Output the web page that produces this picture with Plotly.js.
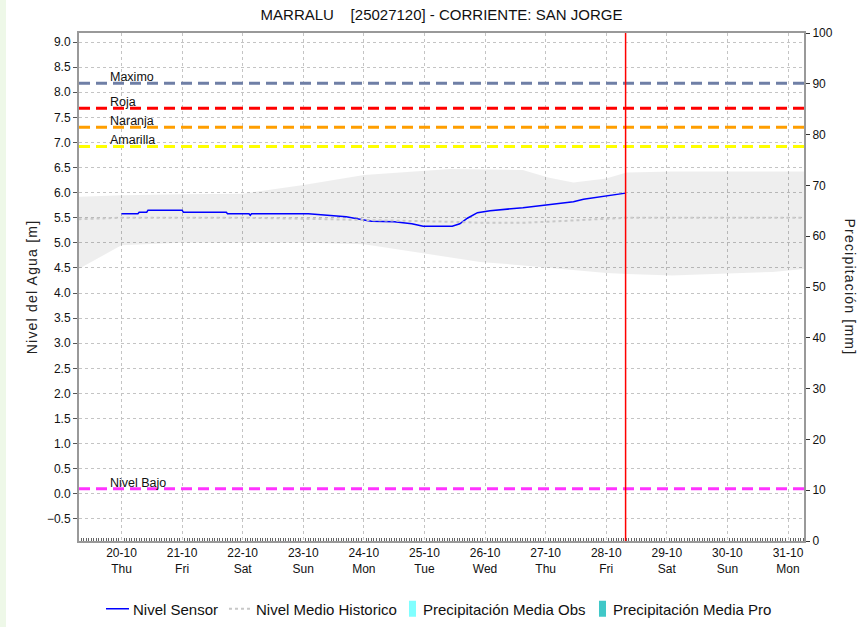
<!DOCTYPE html>
<html>
<head>
<meta charset="utf-8">
<script src="https://cdn.plot.ly/plotly-3.0.1.min.js"></script>
<style>
  html, body { margin: 0; padding: 0; background: #ffffff; }
  #chart { width: 858px; height: 627px; }
  #strip { position: absolute; left: 0; top: 0; width: 6px; height: 627px; background: #eef8e8; }
</style>
</head>
<body>
<div id="chart"></div>
<div id="strip"></div>
<script>
// ---- Data ----
const titleText = 'MARRALU \u00a0\u00a0\u00a0[25027120] - CORRIENTE: SAN JORGE';

const sensorTimes = [
  '2022-10-20 00:00','2022-10-20 06:30','2022-10-20 07:00','2022-10-20 10:00','2022-10-20 10:30',
  '2022-10-21 00:00','2022-10-21 00:30','2022-10-21 17:30','2022-10-21 18:00','2022-10-22 02:30',
  '2022-10-22 03:00','2022-10-22 03:30','2022-10-23 02:00','2022-10-23 10:30','2022-10-23 17:00',
  '2022-10-23 23:30','2022-10-24 03:00','2022-10-24 12:00','2022-10-24 19:00','2022-10-24 23:30',
  '2022-10-25 11:00','2022-10-25 14:00','2022-10-25 17:00','2022-10-25 21:00','2022-10-26 02:00',
  '2022-10-26 15:00','2022-10-27 00:30','2022-10-27 11:00','2022-10-27 15:00','2022-10-27 22:30',
  '2022-10-28 07:40'
];
const sensorLevels = [
  5.58, 5.58, 5.61, 5.61, 5.65,
  5.65, 5.61, 5.61, 5.58, 5.58,
  5.55, 5.58, 5.58, 5.55, 5.52,
  5.46, 5.43, 5.42, 5.38, 5.33,
  5.33, 5.38, 5.49, 5.60, 5.64,
  5.70, 5.75, 5.82, 5.87, 5.93,
  5.99
];

const histTimes = [
  '2022-10-19 07:00','2022-10-20 00:00','2022-10-21 00:00','2022-10-22 00:00','2022-10-23 00:00',
  '2022-10-24 00:00','2022-10-25 10:00','2022-10-25 22:00','2022-10-26 15:00','2022-10-27 01:00',
  '2022-10-27 11:00','2022-10-28 00:00','2022-10-28 08:00','2022-10-29 02:00','2022-10-30 18:00',
  '2022-10-31 07:00'
];
const histUpper = [5.92, 5.95, 5.97, 5.98, 6.15, 6.35, 6.47, 6.46, 6.45, 6.30, 6.20, 6.28, 6.40, 6.42, 6.42, 6.42];
const histLower = [4.48, 4.95, 5.00, 5.00, 5.00, 4.97, 4.72, 4.62, 4.55, 4.50, 4.45, 4.40, 4.38, 4.35, 4.42, 4.48];
const histMean  = [5.47, 5.50, 5.50, 5.50, 5.48, 5.46, 5.42, 5.40, 5.40, 5.42, 5.45, 5.48, 5.50, 5.50, 5.50, 5.50];

// No precipitation bars are visible: all zero
const precipObsTimes = ['2022-10-20','2022-10-21','2022-10-22','2022-10-23','2022-10-24','2022-10-25','2022-10-26','2022-10-27','2022-10-28'];
const precipObs      = [0, 0, 0, 0, 0, 0, 0, 0, 0];
const precipProTimes = ['2022-10-29','2022-10-30','2022-10-31'];
const precipPro      = [0, 0, 0];

const thresholdNames  = ['Maximo', 'Roja', 'Naranja', 'Amarilla', 'Nivel Bajo'];
const thresholdLevels = [8.18, 7.68, 7.30, 6.92, 0.10];

const nowTime = '2022-10-28 07:40';
const xStart = '2022-10-19 07:10';
const xEnd = '2022-10-31 06:20';
const levelRange = [-0.94, 9.18];
const precipRange = [0, 100];

// ---- Styles ----
const thresholdColors = ['#6f7fa6', '#ff0000', '#ff9e00', '#ffff00', '#ff33ff'];
const FONT = 'Liberation Sans, Arial, sans-serif';
const gridColor = '#c4c4c4';

const traces = [];
traces.push({
  x: histTimes, y: histLower, type: 'scatter', mode: 'lines',
  line: {width: 0, color: 'rgba(0,0,0,0)'}, showlegend: false, hoverinfo: 'skip'
});
traces.push({
  x: histTimes, y: histUpper, type: 'scatter', mode: 'lines', fill: 'tonexty',
  fillcolor: 'rgba(0,0,0,0.065)', line: {width: 0, color: 'rgba(0,0,0,0)'},
  showlegend: false, hoverinfo: 'skip'
});
thresholdNames.forEach((n, i) => {
  traces.push({
    x: [xStart, xEnd], y: [thresholdLevels[i], thresholdLevels[i]],
    type: 'scatter', mode: 'lines', name: n, showlegend: false,
    line: {color: thresholdColors[i], width: 3, dash: '11px,6px'}
  });
});
traces.push({
  x: sensorTimes, y: sensorLevels, type: 'scatter', mode: 'lines', name: 'Nivel Sensor',
  line: {color: '#0000ff', width: 1.5}, legendwidth: 78
});
traces.push({
  x: histTimes, y: histMean, type: 'scatter', mode: 'lines', name: 'Nivel Medio Historico',
  line: {color: '#c8c8c8', width: 2, dash: '3px,3px'}, legendwidth: 122
});
traces.push({
  x: precipObsTimes, y: precipObs, type: 'bar', yaxis: 'y2', name: 'Precipitación Media Obs',
  marker: {color: '#80ffff', line: {width: 0}}, legendwidth: 145
});
traces.push({
  x: precipProTimes, y: precipPro, type: 'bar', yaxis: 'y2', name: 'Precipitación Media Pro',
  marker: {color: '#40c8c8', line: {width: 0}}, legendwidth: 160
});

const annotations = thresholdNames.map((n, i) => ({
  text: n, xref: 'paper', x: 0.04, xanchor: 'left',
  yref: 'y', y: thresholdLevels[i], yanchor: 'bottom', yshift: -3,
  showarrow: false, font: {family: FONT, size: 12.5, color: '#111'}
}));
annotations.push({
  text: 'Precipitación [mm]', xref: 'paper', x: 1.063, xanchor: 'center',
  yref: 'paper', y: 0.5, yanchor: 'middle', textangle: 90, showarrow: false,
  font: {family: FONT, size: 14, color: '#222'}
});

const layout = {
  width: 858, height: 627,
  margin: {l: 79, r: 54, t: 33, b: 86, autoexpand: false},
  paper_bgcolor: '#ffffff', plot_bgcolor: '#ffffff',
  font: {family: FONT, size: 12, color: '#222'},
  title: {text: titleText, x: 0.5, xref: 'paper', xanchor: 'center', y: 0.976, yanchor: 'middle',
          font: {family: FONT, size: 15, color: '#111'}},
  showlegend: true,
  legend: {orientation: 'h', x: 0.0193, xanchor: 'left', y: -0.134, yanchor: 'middle',
           font: {family: FONT, size: 15, color: '#111'}, bgcolor: 'rgba(0,0,0,0)',
           traceorder: 'normal'},
  xaxis: {
    type: 'date', range: [xStart, xEnd],
    tick0: '2022-10-20', dtick: 86400000, tickformat: '%d-%m<br>%a',
    ticks: '', showgrid: true, gridcolor: gridColor, griddash: '3px,3px', gridwidth: 1,
    showline: true, mirror: true, linecolor: '#999', linewidth: 2,
    minor: {dtick: 3600000, tick0: '2022-10-20', ticks: 'inside', ticklen: 3, tickcolor: '#666', tickwidth: 1, showgrid: false},
    tickfont: {family: FONT, size: 12, color: '#111'}, zeroline: false
  },
  yaxis: {
    range: levelRange, dtick: 0.5, tick0: 0, tickformat: '.1f',
    ticks: 'outside', ticklen: 4, tickcolor: '#555',
    showgrid: true, gridcolor: gridColor, griddash: '3px,3px', gridwidth: 1,
    showline: true, linecolor: '#999', linewidth: 2, zeroline: false,
    tickfont: {family: FONT, size: 12, color: '#111'},
    title: {text: 'Nivel del Agua [m]', standoff: 6, font: {family: FONT, size: 14, color: '#222'}}
  },
  yaxis2: {
    overlaying: 'y', side: 'right', range: precipRange, dtick: 10,
    ticks: 'outside', ticklen: 4, tickcolor: '#333',
    showgrid: false, showline: true, linecolor: '#999', linewidth: 2, zeroline: false,
    tickfont: {family: FONT, size: 12, color: '#111'}
  },
  shapes: [{type: 'line', xref: 'x', yref: 'paper', x0: nowTime, x1: nowTime, y0: 0, y1: 1,
            line: {color: '#ff0000', width: 1.5}}],
  annotations: annotations
};

function tweak() {
  document.querySelectorAll('.g-ytitle text').forEach(t => t.style.letterSpacing = '1.2px');
  const ann = document.querySelectorAll('.annotation-text');
  if (ann.length) ann[ann.length - 1].style.letterSpacing = '1.2px';
  // legend swatches placed like the reference: short line and narrow tall box just before the text
  document.querySelectorAll('.legend .legendlines path').forEach(p => p.setAttribute('d', 'M13,0h23'));
  document.querySelectorAll('.legend .legendpoints path, .legend .legendsymbols path').forEach(p => {
    const d = p.getAttribute('d') || '';
    if (d.indexOf('H') >= 0 && d.indexOf('V') >= 0) {
      p.setAttribute('d', 'M3.5,8H-3.5V-8H3.5Z');
      p.setAttribute('transform', 'translate(29.5,0)');
    }
  });
}

Plotly.newPlot('chart', traces, layout, {displayModeBar: false, staticPlot: true}).then(() => {
  tweak();
  setTimeout(tweak, 50);
});
</script>
</body>
</html>
